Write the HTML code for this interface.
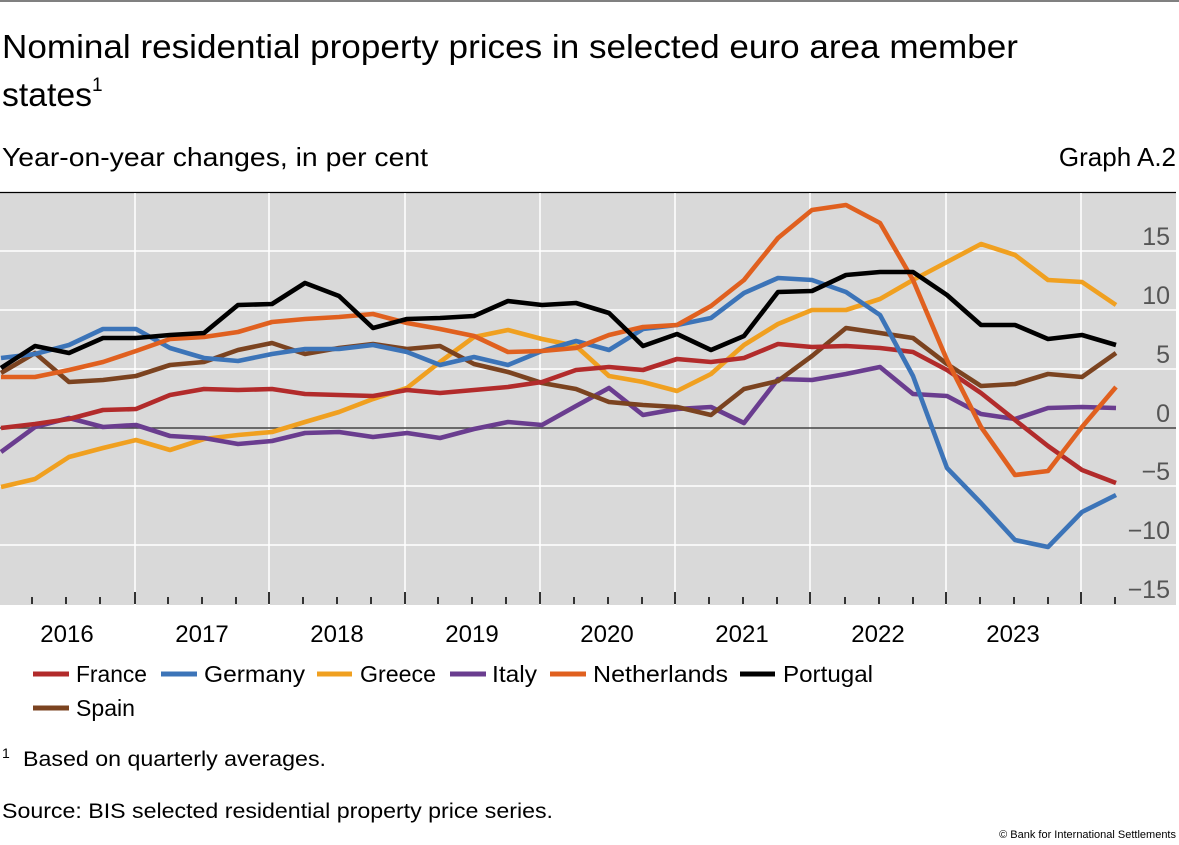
<!DOCTYPE html>
<html><head><meta charset="utf-8"><style>
body{margin:0;background:#fff;}
svg{display:block;font-family:"Liberation Sans",sans-serif;}
</style></head><body>
<svg width="1179" height="845" viewBox="0 0 1179 845" xmlns="http://www.w3.org/2000/svg">
<line x1="0" y1="1" x2="1179" y2="1" stroke="#000" stroke-width="1"/>
<text x="2" y="58" font-size="33" fill="#000" textLength="1016" lengthAdjust="spacingAndGlyphs">Nominal residential property prices in selected euro area member</text>
<text x="2" y="106" font-size="33" fill="#000"><tspan textLength="90" lengthAdjust="spacingAndGlyphs">states</tspan><tspan font-size="19" dy="-15">1</tspan></text>
<text x="2" y="166" font-size="26" fill="#000" textLength="426" lengthAdjust="spacingAndGlyphs">Year-on-year changes, in per cent</text>
<text x="1176" y="166" font-size="26" fill="#000" text-anchor="end">Graph A.2</text>
<rect x="0" y="193" width="1176" height="412" fill="#d9d9d9"/>
<line x1="0" y1="192.5" x2="1176" y2="192.5" stroke="#000" stroke-width="1.2"/>
<g stroke="#fff" stroke-width="1.5">
<line x1="0" y1="251" x2="1176" y2="251"/><line x1="0" y1="310" x2="1176" y2="310"/>
<line x1="0" y1="369" x2="1176" y2="369"/><line x1="0" y1="486" x2="1176" y2="486"/>
<line x1="0" y1="545" x2="1176" y2="545"/>
<line x1="135" y1="193" x2="135" y2="605"/><line x1="269" y1="193" x2="269" y2="605"/>
<line x1="405" y1="193" x2="405" y2="605"/><line x1="540" y1="193" x2="540" y2="605"/>
<line x1="675" y1="193" x2="675" y2="605"/><line x1="810" y1="193" x2="810" y2="605"/>
<line x1="946" y1="193" x2="946" y2="605"/><line x1="1081" y1="193" x2="1081" y2="605"/>
</g>
<line x1="0" y1="428" x2="1176" y2="428" stroke="#444" stroke-width="1.5"/>
<g stroke="#333" stroke-width="2">
<path d="M32 597V604M66 597V604M100 597V604M168 597V604M202 597V604M236 597V604M303 597V604M337 597V604M371 597V604M438 597V604M472 597V604M506 597V604M574 597V604M608 597V604M642 597V604M709 597V604M743 597V604M777 597V604M845 597V604M879 597V604M913 597V604M980 597V604M1014 597V604M1048 597V604M1115 597V604"/>
<path d="M135 592V604M269 592V604M405 592V604M540 592V604M675 592V604M810 592V604M946 592V604M1081 592V604"/>
</g>
<g font-size="25" fill="#555" text-anchor="end">
<text x="1170" y="245">15</text><text x="1170" y="304">10</text><text x="1170" y="363">5</text>
<text x="1170" y="422">0</text><text x="1170" y="480">−5</text><text x="1170" y="539">−10</text><text x="1170" y="598">−15</text>
</g>
<g font-size="24" fill="#000" text-anchor="middle">
<text x="67" y="642">2016</text><text x="202" y="642">2017</text><text x="337" y="642">2018</text>
<text x="472" y="642">2019</text><text x="607" y="642">2020</text><text x="742" y="642">2021</text>
<text x="878" y="642">2022</text><text x="1013" y="642">2023</text>
</g>
<g fill="none" stroke-width="4.6" stroke-linejoin="round">
<polyline stroke="#f0a020" points="1,487 35,479 69,457 103,448 136,440 170,450 204,439 238,435 272,432 305,422 339,412 373,399 407,388 440,362 474,337 508,330 542,339 576,346 609,376 643,382 677,391 711,374 744,345 778,324 812,310 846,310 880,299 913,280 947,262 981,244 1015,255 1048,280 1082,282 1116,305"/>
<polyline stroke="#6a3d8f" points="1,452 35,427 69,418 103,427 136,425 170,436 204,438 238,444 272,441 305,433 339,432 373,437 407,433 440,438 474,429 508,422 542,425 576,406 609,388 643,415 677,409 711,407 744,423 778,379 812,380 846,374 880,367 913,394 947,396 981,414 1015,419 1048,408 1082,407 1116,408"/>
<polyline stroke="#7b4320" points="1,373 35,353 69,382 103,380 136,376 170,365 204,362 238,350 272,343 305,354 339,348 373,344 407,349 440,346 474,364 508,372 542,383 576,389 609,402 643,405 677,407 711,415 744,389 778,381 812,356 846,328 880,333 913,338 947,364 981,386 1015,384 1048,374 1082,377 1116,353"/>
<polyline stroke="#b22b2b" points="1,428 35,424 69,419 103,410 136,409 170,395 204,389 238,390 272,389 305,394 339,395 373,396 407,390 440,393 474,390 508,387 542,382 576,370 609,367 643,370 677,359 711,362 744,358 778,344 812,347 846,346 880,348 913,352 947,370 981,393 1015,420 1048,446 1082,470 1116,483"/>
<polyline stroke="#3c74b8" points="1,358 35,354 69,345 103,329 136,329 170,348 204,358 238,361 272,354 305,349 339,349 373,345 407,352 440,365 474,357 508,365 542,351 576,341 609,350 643,329 677,325 711,318 744,293 778,278 812,280 846,292 880,315 913,376 947,468 981,503 1015,540 1048,547 1082,512 1116,495"/>
<polyline stroke="#e0601f" points="1,377 35,377 69,370 103,362 136,351 170,339 204,337 238,332 272,322 305,319 339,317 373,314 407,323 440,329 474,336 508,352 542,351 576,348 609,335 643,327 677,325 711,306 744,280 778,238 812,210 846,205 880,223 913,280 947,360 981,427 1015,475 1048,471 1082,427 1116,387"/>
<polyline stroke="#000" points="1,368 35,346 69,353 103,338 136,338 170,335 204,333 238,305 272,304 305,283 339,296 373,328 407,319 440,318 474,316 508,301 542,305 576,303 609,313 643,346 677,334 711,350 744,336 778,292 812,291 846,275 880,272 913,272 947,295 981,325 1015,325 1048,339 1082,335 1116,345"/>
</g>
<g stroke-width="5">
<line x1="33" y1="674" x2="69" y2="674" stroke="#b22b2b"/>
<line x1="161" y1="674" x2="197" y2="674" stroke="#3c74b8"/>
<line x1="317" y1="674" x2="352" y2="674" stroke="#f0a020"/>
<line x1="450" y1="674" x2="486" y2="674" stroke="#6a3d8f"/>
<line x1="550" y1="674" x2="586" y2="674" stroke="#e0601f"/>
<line x1="740" y1="674" x2="775" y2="674" stroke="#000"/>
<line x1="33" y1="708" x2="69" y2="708" stroke="#7b4320"/>
</g>
<g font-size="23" fill="#000">
<text x="76" y="682" textLength="71" lengthAdjust="spacingAndGlyphs">France</text>
<text x="204" y="682" textLength="101" lengthAdjust="spacingAndGlyphs">Germany</text>
<text x="360" y="682" textLength="76" lengthAdjust="spacingAndGlyphs">Greece</text>
<text x="492" y="682" textLength="45" lengthAdjust="spacingAndGlyphs">Italy</text>
<text x="593" y="682" textLength="135" lengthAdjust="spacingAndGlyphs">Netherlands</text>
<text x="783" y="682" textLength="90" lengthAdjust="spacingAndGlyphs">Portugal</text>
<text x="76" y="716" textLength="59" lengthAdjust="spacingAndGlyphs">Spain</text>
</g>
<text x="2" y="758" font-size="14">1</text>
<text x="23" y="766" font-size="21" textLength="303" lengthAdjust="spacingAndGlyphs">Based on quarterly averages.</text>
<text x="2" y="818" font-size="21" textLength="551" lengthAdjust="spacingAndGlyphs">Source: BIS selected residential property price series.</text>
<text x="1176" y="838" font-size="11" text-anchor="end">© Bank for International Settlements</text>
</svg>
</body></html>
